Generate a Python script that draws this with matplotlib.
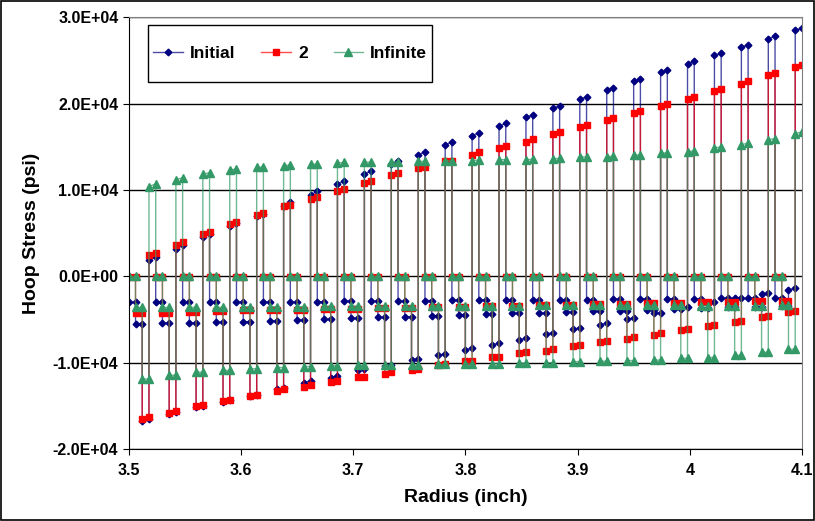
import numpy as np
import matplotlib
matplotlib.use('Agg')
import matplotlib.pyplot as plt
from matplotlib.patches import Rectangle
from matplotlib.colors import to_rgba
from matplotlib.ticker import FuncFormatter

plt.rcParams['font.family'] = ['Liberation Sans', 'DejaVu Sans']
plt.rcParams['font.weight'] = 'bold'

# 25 repeating cells of 4 layers each, radius 3.5 .. 4.1 inch
r_inner = 3.5
r_outer = 4.1
n_cells = 25

# hoop stress per layer, in 1e3 psi; "_in" / "_out" = inner / outer face of the layer
# ---- Initial ----
init_l1 = [-3.0, -3.0, -3.0, -3.0, -3.0, -3.0, -3.0, -2.95, -2.9, -2.9, -2.9, -2.8, -2.75,
           -2.75, -2.75, -2.7, -2.7, -2.7, -2.65, -2.6, -2.6, -2.6, -2.55, -2.55, -2.5]
init_l2 = [-5.5, -5.44, -5.4, -5.33, -5.25, -5.17, -5.06, -4.98, -4.87, -4.75, -4.67, -4.56, -4.5,
           -4.37, -4.29, -4.25, -4.17, -4.06, -3.98, -3.87, -3.79, -3.7, -3.6, -3.5, -3.4]
init_l3_in = [-16.7, -15.9, -15.1, -14.5, -13.9, -13.1, -12.3, -11.75, -10.9, -10.4, -9.67, -9.1, -8.5,
              -7.9, -7.33, -6.67, -6.1, -5.6, -4.94, -4.3, -3.7, -3.1, -2.55, -2.05, -1.55]
init_l3_out = [-16.5, -15.75, -14.98, -14.3, -13.7, -12.9, -12.1, -11.56, -10.75, -10.3, -9.56, -9.0, -8.3,
               -7.75, -7.17, -6.52, -5.98, -5.4, -4.83, -4.2, -3.6, -3.0, -2.45, -1.95, -1.4]
init_l4_in = [1.93, 3.16, 4.55, 5.78, 6.97, 8.17, 9.44, 10.7, 11.87, 12.95, 14.1, 15.26, 16.3,
              17.4, 18.4, 19.5, 20.5, 21.6, 22.6, 23.6, 24.6, 25.6, 26.55, 27.5, 28.5]
init_l4_out = [2.23, 3.58, 4.89, 6.13, 7.24, 8.55, 9.83, 11.0, 12.17, 13.3, 14.37, 15.53, 16.6,
               17.7, 18.7, 19.7, 20.8, 21.85, 22.85, 23.9, 24.9, 25.8, 26.8, 27.8, 28.7]

# ---- 2 ----
two_l1 = [-0.1] * 25
two_l2 = [-4.2, -4.2, -4.1, -4.0, -3.9, -3.9, -3.85, -3.8, -3.75, -3.7, -3.62, -3.55, -3.5,
          -3.42, -3.38, -3.33, -3.3, -3.22, -3.18, -3.1, -3.03, -3.0, -2.95, -2.9, -2.85]
two_l3_in = [-16.5, -15.8, -15.05, -14.4, -13.9, -13.3, -12.8, -12.25, -11.7, -11.3, -10.8, -10.3, -9.8,
             -9.37, -8.9, -8.6, -8.1, -7.63, -7.2, -6.75, -6.25, -5.8, -5.25, -4.75, -4.17]
two_l3_out = [-16.3, -15.6, -14.9, -14.3, -13.7, -13.06, -12.6, -12.1, -11.6, -11.1, -10.7, -10.2, -9.75,
              -9.33, -8.8, -8.44, -7.98, -7.52, -7.06, -6.6, -6.13, -5.6, -5.13, -4.6, -4.06]
two_l4_in = [2.43, 3.62, 4.86, 6.01, 7.05, 8.09, 8.94, 9.9, 10.8, 11.71, 12.5, 13.3, 14.1,
             14.8, 15.6, 16.45, 17.26, 18.1, 18.9, 19.7, 20.5, 21.46, 22.3, 23.3, 24.2]
two_l4_out = [2.70, 3.93, 5.17, 6.24, 7.32, 8.24, 9.17, 10.1, 11.06, 11.95, 12.68, 13.4, 14.34,
              15.07, 15.86, 16.7, 17.5, 18.3, 19.1, 19.9, 20.8, 21.7, 22.6, 23.5, 24.5]

# ---- Infinite ----
inf_l1 = [0.0] * 25
inf_l2 = [-3.6, -3.6, -3.6, -3.58, -3.52, -3.52, -3.5, -3.45, -3.45, -3.45, -3.43, -3.4, -3.4,
          -3.38, -3.38, -3.37, -3.37, -3.36, -3.36, -3.35, -3.35, -3.4, -3.4, -3.38, -3.35]
inf_l3 = [-11.9, -11.45, -11.1, -10.9, -10.7, -10.56, -10.44, -10.35, -10.3, -10.3, -10.25, -10.2, -10.1,
          -10.1, -10.06, -10.0, -9.87, -9.83, -9.75, -9.7, -9.5, -9.4, -9.15, -8.8, -8.45]
inf_l4_in = [10.4, 11.2, 11.83, 12.33, 12.6, 12.83, 12.95, 13.14, 13.2, 13.24, 13.3, 13.37, 13.41,
             13.49, 13.5, 13.6, 13.8, 13.85, 14.0, 14.26, 14.45, 14.9, 15.26, 15.8, 16.5]
inf_l4_out = [10.7, 11.4, 11.99, 12.4, 12.65, 12.88, 13.0, 13.18, 13.22, 13.26, 13.32, 13.4, 13.45,
              13.52, 13.55, 13.65, 13.85, 13.9, 14.05, 14.3, 14.5, 14.95, 15.4, 15.95, 16.76]

labels = ['Initial', '2', 'Infinite']
colors = ['#000080', '#FF0000', '#339966']
markers = ['D', 's', '^']
msizes = [3.4, 4.0, 5.5]

# layer interfaces (4 equal layers per cell)
edges = np.linspace(r_inner, r_outer, 4 * n_cells + 1)


def build(l1_in, l1_out, l2_in, l2_out, l3_in, l3_out, l4_in, l4_out):
    xs, ys = [], []
    faces = [(l1_in, l1_out), (l2_in, l2_out), (l3_in, l3_out), (l4_in, l4_out)]
    for k in range(n_cells):
        for j, (a, b) in enumerate(faces):
            i = 4 * k + j
            xs += [edges[i], edges[i + 1]]
            ys += [a[k] * 1000, b[k] * 1000]
    return np.array(xs), np.array(ys)


series = [
    build(init_l1, init_l1, init_l2, init_l2, init_l3_in, init_l3_out, init_l4_in, init_l4_out),
    build(two_l1, two_l1, two_l2, two_l2, two_l3_in, two_l3_out, two_l4_in, two_l4_out),
    build(inf_l1, inf_l1, inf_l2, inf_l2, inf_l3, inf_l3, inf_l4_in, inf_l4_out),
]

fig = plt.figure(figsize=(8.15, 5.21), dpi=100)
ax = fig.add_axes([0.158, 0.138, 0.826, 0.829])

handles = []
for (xs, ys), lab, c, m, ms in zip(series, labels, colors, markers, msizes):
    h, = ax.plot(xs, ys, color=to_rgba(c, 0.7), lw=1.0, marker=m, markersize=ms,
                 markerfacecolor=c, markeredgecolor=c, label=lab)
    handles.append(h)

ax.set_xlim(3.5, 4.1)
ax.set_ylim(-20000, 30000)
ax.set_xticks([3.5, 3.6, 3.7, 3.8, 3.9, 4.0, 4.1])
ax.set_xticklabels(['3.5', '3.6', '3.7', '3.8', '3.9', '4', '4.1'])
ax.set_yticks([-20000, -10000, 0, 10000, 20000, 30000])
ax.yaxis.set_major_formatter(FuncFormatter(
    lambda v, p: '%.1fE+04' % (v / 1e4) if v != 0 else '0.0E+00'))
ax.grid(axis='y', color='black', lw=1.0)
ax.set_axisbelow(True)
ax.tick_params(labelsize=11.5, length=4, direction='out')
ax.tick_params(axis='x', pad=6)
for t in ax.get_xticklabels() + ax.get_yticklabels():
    t.set_fontweight('bold')

ax.spines['left'].set_color('black')
ax.spines['bottom'].set_color('black')
ax.spines['top'].set_color('#808080')
ax.spines['right'].set_color('#808080')

ax.set_xlabel('Radius (inch)', fontsize=14, fontweight='bold', labelpad=8)
ax.set_ylabel('Hoop Stress (psi)', fontsize=14, fontweight='bold', labelpad=9)

# legend box (Excel style: tall padding) drawn separately
ax.add_patch(Rectangle((0.028, 0.8495), 0.422, 0.1315, transform=ax.transAxes,
                       facecolor='white', edgecolor='black', lw=1.0, zorder=5))
leg = ax.legend(handles=handles, loc='center', bbox_to_anchor=(0.24, 0.9155), ncol=3,
                frameon=False, handlelength=1.7, handletextpad=0.4, columnspacing=1.5,
                prop={'weight': 'bold', 'size': 12.5})
leg.set_zorder(6)

fig.patches.append(Rectangle((0.001, 0.001), 0.998, 0.998, transform=fig.transFigure,
                             fill=False, edgecolor='black', lw=1.2))

fig.savefig('out.png', dpi=100)
